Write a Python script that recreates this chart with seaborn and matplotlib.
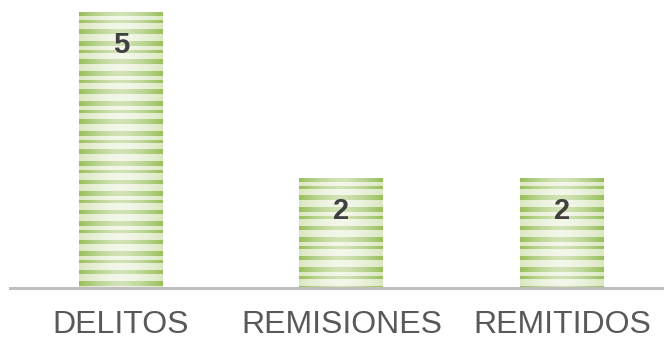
import numpy as np
import pandas as pd
import matplotlib
matplotlib.use("Agg")
import matplotlib.pyplot as plt
import seaborn as sns

categorias = ["DELITOS", "REMISIONES", "REMITIDOS"]
valores = [5, 2, 2]

sns.set_style("white")
plt.rcParams["font.family"] = ["Liberation Sans", "DejaVu Sans"]

df = pd.DataFrame({"categoria": categorias, "valor": valores})

fig = plt.figure(figsize=(6.64, 3.39), dpi=100)
ax = fig.add_axes([0.015, 0.1504, 0.985, 0.8142])

sns.barplot(data=df, x="categoria", y="valor", ax=ax, width=0.38,
            color="#c5d89c", saturation=1, edgecolor="none")

# striped texture with a pale centre, clipped to each bar
rows = 120
stripe = np.zeros(rows)
pattern = [1, 1, 0, 0, 1, 0, 0, 0, 1, 1, 0, 0, 0]
for i in range(rows):
    stripe[i] = pattern[i % len(pattern)]
cols = 60
xx = np.linspace(-1, 1, cols)
pale = 1 - np.abs(xx) ** 1.5
green = np.array([0.60, 0.75, 0.36])
light = np.array([0.86, 0.91, 0.76])
white = np.array([0.97, 0.98, 0.95])
img = np.zeros((rows, cols, 3))
for r in range(rows):
    base = green if stripe[r] else light
    for c in range(cols):
        k = pale[c] * (0.6 if stripe[r] else 0.85)
        img[r, c] = base * (1 - k) + white * k

for patch in ax.patches:
    x0, y0 = patch.get_x(), patch.get_y()
    w, h = patch.get_width(), patch.get_height()
    n = int(rows * h / 5)
    im = ax.imshow(img[:max(n, 1)], extent=[x0, x0 + w, y0, y0 + h],
                   aspect="auto", interpolation="nearest", zorder=3)
    im.set_clip_path(patch)
    ax.text(x0 + w / 2, y0 + h - 0.6, str(int(round(h))), ha="center",
            va="center", fontsize=21, fontweight="bold", color="#404040",
            zorder=4)

ax.set_xlim(-0.503, 2.463)
ax.set_ylim(0, 5)
ax.set_xlabel("")
ax.set_ylabel("")
ax.set_yticks([])
ax.tick_params(axis="x", length=0, pad=16, labelsize=23, labelcolor="#595959")
for s in ["top", "right", "left"]:
    ax.spines[s].set_visible(False)
ax.spines["bottom"].set_color("#bfbfbf")
ax.spines["bottom"].set_linewidth(2.2)
ax.spines["bottom"].set_zorder(5)

fig.savefig("out.png", dpi=100)
